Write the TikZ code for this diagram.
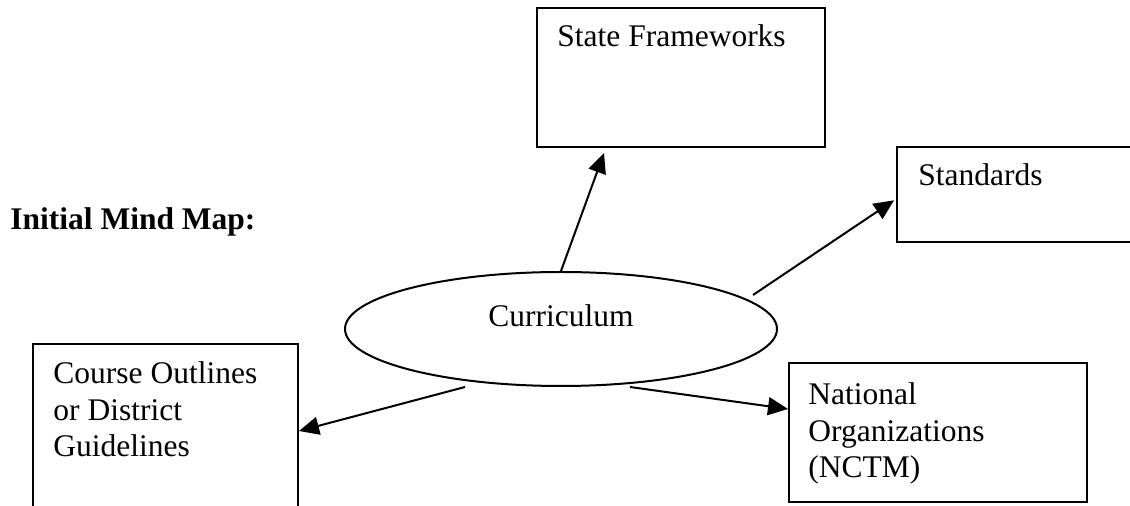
\documentclass[tikz,border=0pt]{standalone}
\usepackage{fontspec}
\setmainfont{Liberation Serif}
\usetikzlibrary{shapes.geometric,arrows.meta,calc}
\begin{document}
\begin{tikzpicture}[x=0.5pt,y=-0.5pt,
  every node/.style={font=\fontsize{15.75}{18.25}\selectfont},
  boxnode/.style={draw=black,line width=1pt,rectangle,inner sep=0pt},
  lbl/.style={inner sep=0pt,anchor=base west,align=left},
  conn/.style={line width=1pt,-{Triangle[length=10pt,width=9pt]}}]
\useasboundingbox (0,0) rectangle (1130,506);
\clip (0,0) rectangle (1130,506);
\fill[white] (0,0) rectangle (1130,506);
% boxes
\node[boxnode,minimum width=144pt,minimum height=69.5pt] (sf) at (681,77.5) {};
\node[boxnode,minimum width=121.5pt,minimum height=47.5pt] (std) at (1018.5,194.5) {};
\node[boxnode,minimum width=132.5pt,minimum height=93pt] (co) at (165.5,437) {};
\node[boxnode,minimum width=149pt,minimum height=69.5pt] (na) at (938,432.5) {};
\node[draw=black,line width=1pt,ellipse,inner sep=0pt,minimum width=216pt,minimum height=57pt] (ell) at (561,329) {};
% texts (multi-line: anchored at the baseline of the last line)
\node[lbl] (sft) at (557,47) {State Frameworks};
\node[lbl] (stdt) at (918,186) {Standards};
\node[lbl] (cot) at (53,457) {Course Outlines\\or District\\Guidelines};
\node[lbl] (nat) at (808,478) {National\\Organizations\\(NCTM)};
\node[lbl] (cur) at (488,327) {Curriculum};
\node[lbl,font=\fontsize{15.75}{18.25}\selectfont\bfseries] (title) at (10,230) {Initial Mind Map:};
% connectors
\draw[conn] (ell.north) -- ($(sf.south west)+(68,5)$);
\draw[conn] ($(ell.center)+(192,-34)$) -- ($(std.north west)!0.56!(std.south west)+(-2,0)$);
\draw[conn] ($(ell.center)+(-96,58)$) -- ($(co.north east)+(0,88)$);
\draw[conn] ($(ell.center)+(69,58)$) -- ($(na.north west)+(0,47)$);
\end{tikzpicture}
\end{document}
